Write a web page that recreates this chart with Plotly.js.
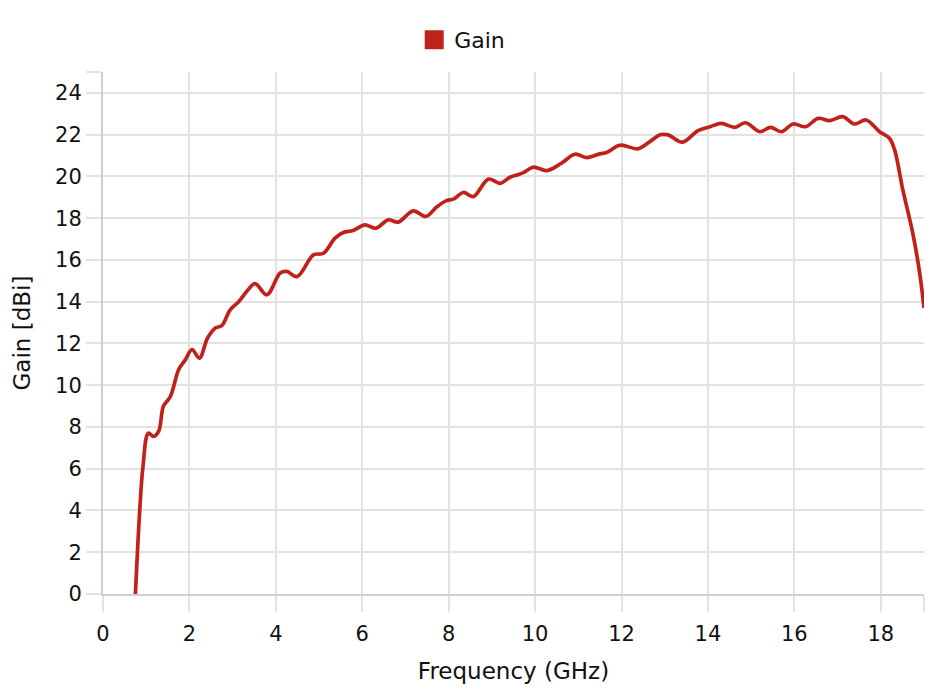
<!DOCTYPE html>
<html>
<head>
<meta charset="utf-8">
<script src="https://cdn.plot.ly/plotly-3.0.1.min.js"></script>
<style>html,body{margin:0;padding:0;background:#fff;}#chart{width:930px;height:696px;}</style>
</head>
<body>
<div id="chart"></div>
<script>
const freq = [0.75,0.85,0.925,1.05,1.17,1.29,1.40,1.56,1.75,1.90,2.06,2.23,2.42,2.60,2.75,2.94,3.14,3.33,3.52,3.79,4.10,4.25,4.49,4.87,5.10,5.37,5.56,5.79,6.06,6.32,6.60,6.83,7.18,7.47,7.72,7.95,8.11,8.34,8.57,8.92,9.19,9.42,9.60,9.73,9.96,10.27,10.61,10.92,11.20,11.50,11.65,11.92,12.04,12.38,12.66,12.89,13.08,13.41,13.77,14.05,14.31,14.62,14.87,15.20,15.45,15.70,15.97,16.26,16.55,16.82,17.12,17.39,17.66,17.97,18.20,18.32,18.51,18.74,18.90,19.0];
const gain = [0,4.0,6.1,7.7,7.55,7.8,9.0,9.46,10.74,11.2,11.7,11.3,12.26,12.74,12.85,13.6,14.0,14.5,14.86,14.33,15.37,15.45,15.2,16.24,16.32,17.04,17.31,17.41,17.68,17.52,17.92,17.81,18.35,18.08,18.53,18.84,18.91,19.23,19.03,19.87,19.67,19.96,20.08,20.18,20.44,20.28,20.63,21.06,20.9,21.08,21.14,21.47,21.49,21.32,21.67,21.99,21.99,21.64,22.19,22.38,22.54,22.35,22.57,22.14,22.35,22.14,22.51,22.38,22.78,22.67,22.86,22.51,22.70,22.14,21.83,21.27,19.35,17.28,15.37,13.7];
const xTicks = [0,2,4,6,8,10,12,14,16,18,19];
const xLabels = ['0','2','4','6','8','10','12','14','16','18',''];
const yTicks = [0,2,4,6,8,10,12,14,16,18,20,22,24,25];
const yLabels = ['0','2','4','6','8','10','12','14','16','18','20','22','24',''];
const seriesName = 'Gain';
const red = '#c0221b';
const FONT = 'DejaVu Sans, sans-serif';

const traces = [
  {x: freq, y: gain, type: 'scatter', mode: 'lines', line: {color: red, width: 3.7, shape: 'spline', smoothing: 1}, showlegend: false, hoverinfo: 'x+y'},
  {x: [null], y: [null], type: 'scatter', mode: 'markers', name: seriesName, marker: {symbol: 'square', color: red, size: 16, line: {color: red, width: 3}}, showlegend: true}
];
const layout = {
  width: 930, height: 696,
  margin: {l: 103, r: 6, t: 72, b: 101.5},
  paper_bgcolor: '#fff', plot_bgcolor: '#fff',
  font: {family: FONT, size: 21, color: '#111'},
  showlegend: true,
  legend: {orientation: 'h', xref: 'container', yref: 'container', x: 0.497, xanchor: 'center', y: 1 - 40/696, yanchor: 'middle', font: {family: FONT, size: 22, color: '#111'}, itemsizing: 'trace', itemwidth: 30},
  xaxis: {range: [0, 19], tickvals: xTicks, ticktext: xLabels, showgrid: true, gridcolor: '#e2e2e2', gridwidth: 1.5, ticks: 'outside', ticklen: 16, tickcolor: '#e2e2e2', tickwidth: 1.5, showline: true, linecolor: '#cfcfcf', linewidth: 2, zeroline: false, ticklabelstandoff: 4, tickfont: {size: 21}, title: {text: 'Frequency (GHz)', font: {size: 23}, standoff: 18}},
  yaxis: {range: [0, 25], tickvals: yTicks, ticktext: yLabels, showgrid: true, gridcolor: '#e2e2e2', gridwidth: 1.5, ticks: 'outside', ticklen: 15, tickcolor: '#e2e2e2', tickwidth: 1.5, showline: true, linecolor: '#cfcfcf', linewidth: 2, zeroline: false, tickfont: {size: 21}, title: {text: 'Gain [dBi]', font: {size: 23}, standoff: 18}}
};
Plotly.newPlot('chart', traces, layout, {displayModeBar: false});
</script>
</body>
</html>
